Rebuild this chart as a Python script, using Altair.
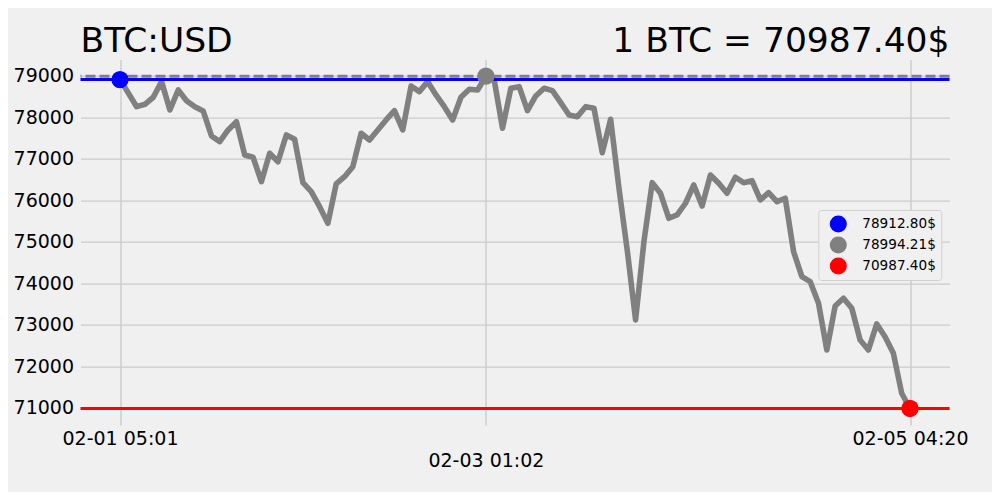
import altair as alt
import pandas as pd

# Hourly BTC:USD prices (index = hour since 02-01 05:01)
prices = [
    78912.80, 78590, 78260, 78318, 78487, 78863, 78181, 78663, 78405, 78260,
    78157, 77554, 77417, 77699, 77899, 77096, 77041, 76453, 77137, 76935,
    77578, 77475, 76429, 76212, 75851, 75451, 76398, 76573, 76814, 77619,
    77458, 77699, 77940, 78164, 77699, 78759, 78622, 78863, 78542, 78260,
    77940, 78487, 78680, 78663, 78994.21, 78904, 77740, 78704, 78742, 78164,
    78518, 78704, 78646, 78357, 78060, 78020, 78260, 78221, 77152, 77957,
    76300, 74800, 73120, 75000, 76429, 76173, 75571, 75651, 75933, 76373,
    75867, 76614, 76414, 76173, 76559, 76429, 76477, 76012, 76188, 75971,
    76053, 74766, 74164, 74044, 73523, 72398, 73458, 73643, 73402, 72639,
    72398, 73024, 72718, 72318, 71354, 70987.40,
]

tick_idx = [0, 44, 95]
tick_labels = ["02-01 05:01", "02-03 01:02", "02-05 04:20"]
y_ticks = [71000, 72000, 73000, 74000, 75000, 76000, 77000, 78000, 79000]

marker_idx = [0, 44, 95]
marker_vals = [78912.80, 78994.21, 70987.40]
marker_labels = ["78912.80$", "78994.21$", "70987.40$"]
marker_colors = ["#0000ff", "#808080", "#ff0000"]

title_left = "BTC:USD"
title_right = "1 BTC = 70987.40$"

FONT = "DejaVu Sans"

df = pd.DataFrame({"i": list(range(len(prices))), "price": prices})
mk = pd.DataFrame({"i": marker_idx, "price": marker_vals, "label": marker_labels})

label_expr = " : ".join(
    f"datum.value == {t} ? '{l}'" for t, l in zip(tick_idx[:-1], tick_labels[:-1])
) + f" : '{tick_labels[-1]}'"

x_scale = alt.Scale(domain=[-4.75, 99.75], nice=False, zero=False)
y_scale = alt.Scale(domain=[70587, 79394.5], nice=False, zero=False)

x_axis = alt.Axis(
    values=tick_idx, labelExpr=label_expr, title=None, grid=True,
    labelFontSize=19, labelFont=FONT, labelColor="black",
    labelPadding={"condition": {"test": "datum.value == 44", "value": 26}, "value": 4},
    labelOverlap=False, labelFlush=False, domain=False, ticks=False,
)
y_axis = alt.Axis(
    values=y_ticks, format="d", title=None, grid=True,
    labelFontSize=19, labelFont=FONT, labelColor="black", labelPadding=7,
    domain=False, ticks=False,
)

line = alt.Chart(df).mark_line(color="#808080", strokeWidth=5.6, strokeJoin="round").encode(
    x=alt.X("i:Q", scale=x_scale, axis=x_axis),
    y=alt.Y("price:Q", scale=y_scale, axis=y_axis),
)

rule_blue = alt.Chart(mk.iloc[[0]]).mark_rule(color="#0000ff", strokeWidth=3).encode(
    y=alt.Y("price:Q", scale=y_scale)
)
rule_gray = alt.Chart(mk.iloc[[1]]).mark_rule(color="#808080", strokeWidth=3, strokeDash=[10, 4]).encode(
    y=alt.Y("price:Q", scale=y_scale)
)
rule_red = alt.Chart(mk.iloc[[2]]).mark_rule(color="#ff0000", strokeWidth=3).encode(
    y=alt.Y("price:Q", scale=y_scale)
)

points = alt.Chart(mk).mark_circle(size=300, opacity=1).encode(
    x=alt.X("i:Q", scale=x_scale),
    y=alt.Y("price:Q", scale=y_scale),
    color=alt.Color(
        "label:N",
        scale=alt.Scale(domain=marker_labels, range=marker_colors),
        legend=alt.Legend(
            title=None, orient="none", legendX=737.8, legendY=150.4,
            symbolType="circle", symbolSize=290, symbolStrokeWidth=0, symbolOpacity=1,
            labelFontSize=13.6, labelFont=FONT, labelColor="black", labelOffset=15,
            padding=5, symbolOffset=6, rowPadding=3,
            fillColor="#f0f0f0", strokeColor="#d0d0d0", cornerRadius=3,
        ),
    ),
)

t_left = alt.Chart(pd.DataFrame({"t": [title_left]})).mark_text(
    align="left", baseline="alphabetic", fontSize=34.5, font=FONT, color="black"
).encode(x=alt.value(0), y=alt.value(-8), text="t:N")

t_right = alt.Chart(pd.DataFrame({"t": [title_right]})).mark_text(
    align="right", baseline="alphabetic", fontSize=34.5, font=FONT, color="black"
).encode(x=alt.value(869), y=alt.value(-8), text="t:N")

chart = alt.layer(line, rule_blue, rule_gray, rule_red, points, t_left, t_right).properties(
    width=869, height=365.5,
    autosize=alt.AutoSizeParams(type="none"),
    padding={"left": 72.5, "top": 51.6, "right": 42.5, "bottom": 66.9},
    background="#f0f0f0",
).configure_view(stroke=None).configure_axis(
    gridColor="#cbcbcb", gridWidth=1.4
)

chart.save("out.html", embed_options={"renderer": "svg", "actions": False})
